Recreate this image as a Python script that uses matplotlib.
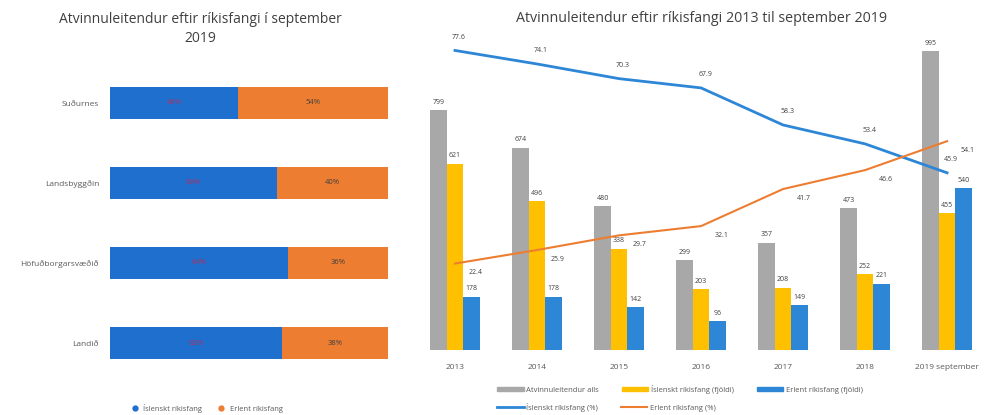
import matplotlib
matplotlib.use("Agg")
import matplotlib.pyplot as plt
from matplotlib.patches import Patch
from matplotlib.lines import Line2D
import numpy as np

plt.rcParams['font.family'] = ['Open Sans', 'DejaVu Sans']

# ---- Left chart data ----
regions = ["Suðurnes", "Landsbyggðin", "Höfuðborgarsvæðið", "Landið"]
pct_isl = [46, 60, 64, 62]
pct_erl = [54, 40, 36, 38]

# ---- Right chart data ----
years = ["2013", "2014", "2015", "2016", "2017", "2018", "2019 september"]
total = [799, 674, 480, 299, 357, 473, 995]
isl_n = [621, 496, 338, 203, 208, 252, 455]
erl_n = [178, 178, 142, 96, 149, 221, 540]
isl_p = [77.6, 74.1, 70.3, 67.9, 58.3, 53.4, 45.9]
erl_p = [22.4, 25.9, 29.7, 32.1, 41.7, 46.6, 54.1]

BLUE = '#1f6fcf'
ORANGE = '#ed7d31'
GRAY = '#a8a8a8'
YELLOW = '#ffc000'
BLUE2 = '#2e86d6'
TXT = '#595959'

W, H = 984, 415
fig = plt.figure(figsize=(W / 100, H / 100), dpi=100)

def px_axes(x0, y0, x1, y1):
    return fig.add_axes([x0 / W, 1 - y1 / H, (x1 - x0) / W, (y1 - y0) / H])

# ---------- Left chart ----------
ax = px_axes(110, 63, 388, 383)
y = np.arange(len(regions))
ax.barh(y, pct_isl, height=0.41, color=BLUE)
ax.barh(y, pct_erl, left=pct_isl, height=0.41, color=ORANGE)
for yi, a, b in zip(y, pct_isl, pct_erl):
    ax.text(a / 2, yi, f"{a}%", ha='center', va='center', fontsize=5.5, color='#b03060')
    ax.text(a + b / 2, yi, f"{b}%", ha='center', va='center', fontsize=5.5, color='#404040')
ax.set_xlim(0, 100)
ax.set_ylim(len(regions) - 0.5, -0.5)
ax.set_yticks(y)
ax.set_yticklabels(regions, fontsize=6, color=TXT)
ax.set_xticks([])
ax.tick_params(axis='y', length=0, pad=8)
for s in ax.spines.values():
    s.set_visible(False)
fig.text(200 / W, 1 - 29 / H, "Atvinnuleitendur eftir ríkisfangi í september\n2019",
         ha='center', va='center', fontsize=10, color='#404040', linespacing=1.45)
fig.legend(handles=[Line2D([], [], marker='o', ls='', color=BLUE, markersize=3.5, label='Íslenskt ríkisfang'),
                    Line2D([], [], marker='o', ls='', color=ORANGE, markersize=3.5, label='Erlent ríkisfang')],
           loc='center', bbox_to_anchor=(205 / W, 1 - 408 / H), ncol=2, frameon=False,
           fontsize=5.5, handletextpad=0.1, columnspacing=1.5, labelcolor=TXT)

# ---------- Right chart ----------
ax2 = px_axes(414, 30, 984, 350)
x = np.arange(len(years))
bw = 0.2
ax2.bar(x - bw, total, bw, color=GRAY)
ax2.bar(x, isl_n, bw, color=YELLOW)
ax2.bar(x + bw, erl_n, bw, color=BLUE2)
for xi, t, a, b in zip(x, total, isl_n, erl_n):
    ax2.text(xi - bw, t + 15, str(t), ha='center', va='bottom', fontsize=5, color='#404040')
    ax2.text(xi, a + 15, str(a), ha='center', va='bottom', fontsize=5, color='#404040')
    ax2.text(xi + bw, b + 15, str(b), ha='center', va='bottom', fontsize=5, color='#404040')
ax2.set_xlim(-0.5, 6.45)
ax2.set_ylim(0, 320 / 0.300)
ax2.set_xticks(x)
ax2.set_xticklabels(years, fontsize=6, color=TXT)
ax2.tick_params(axis='x', length=0, pad=10)
ax2.set_yticks([])
for s in ax2.spines.values():
    s.set_visible(False)

ax3 = ax2.twinx()
ax3.plot(x, isl_p, color=BLUE2, lw=2)
ax3.plot(x, erl_p, color=ORANGE, lw=1.5)
for xi, a, b in zip(x, isl_p, erl_p):
    ax3.text(xi + 0.05, a + 2.5, f"{a}", ha='center', va='bottom', fontsize=5, color='#404040')
    ax3.text(xi + 0.25, b - 1.5, f"{b}", ha='center', va='top', fontsize=5, color='#404040')
ax3.set_ylim(0, 320 / 3.86)
ax3.set_yticks([])
for s in ax3.spines.values():
    s.set_visible(False)

fig.text(702 / W, 1 - 18 / H, "Atvinnuleitendur eftir ríkisfangi 2013 til september 2019",
         ha='center', va='center', fontsize=10.3, color='#404040')

h1 = [Patch(color=GRAY, label='Atvinnuleitendur alls'),
      Patch(color=YELLOW, label='Íslenskt ríkisfang (fjöldi)'),
      Patch(color=BLUE2, label='Erlent ríkisfang (fjöldi)')]
h2 = [Line2D([], [], color=BLUE2, lw=2, label='Íslenskt ríkisfang (%)'),
      Line2D([], [], color=ORANGE, lw=1.5, label='Erlent ríkisfang (%)')]
fig.legend(handles=h1, loc='center left', bbox_to_anchor=(490 / W, 1 - 389 / H), ncol=3,
           frameon=False, fontsize=5.5, handlelength=3.5, handleheight=0.5,
           handletextpad=0.3, columnspacing=3, labelcolor=TXT)
fig.legend(handles=h2, loc='center left', bbox_to_anchor=(490 / W, 1 - 407 / H), ncol=2,
           frameon=False, fontsize=5.5, handlelength=3.5, handletextpad=0.3,
           columnspacing=3, labelcolor=TXT)

fig.savefig("out.png", dpi=100)
